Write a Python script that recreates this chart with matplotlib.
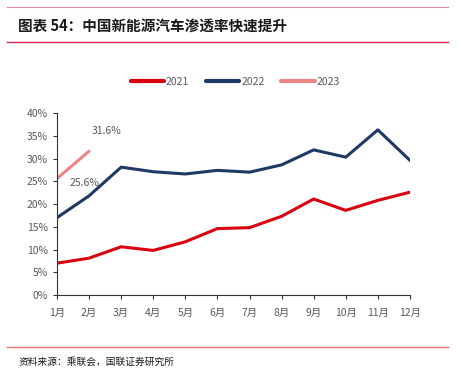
import matplotlib
matplotlib.use("Agg")
import matplotlib.pyplot as plt
from matplotlib.lines import Line2D

plt.rcParams['font.family'] = ['Noto Sans CJK SC', 'DejaVu Sans']

months = ["1月", "2月", "3月", "4月", "5月", "6月", "7月", "8月", "9月", "10月", "11月", "12月"]
pen_2021 = [7.0, 8.1, 10.6, 9.8, 11.7, 14.6, 14.8, 17.3, 21.1, 18.6, 20.8, 22.6]
pen_2022 = [17.0, 21.8, 28.1, 27.1, 26.6, 27.4, 27.0, 28.6, 31.9, 30.3, 36.3, 29.6]
pen_2023 = [25.6, 31.6]
yticks = [0, 5, 10, 15, 20, 25, 30, 35, 40]

red = "#D9000F"
navy = "#1F3864"
pink = "#EE8585"
grey = "#595959"

fig = plt.figure(figsize=(4.57, 3.75), dpi=100)
ax = fig.add_axes([0.1247, 0.2133, 0.7723, 0.4853])

x = list(range(len(months)))
ax.plot(x, pen_2021, color=red, lw=2.2, solid_capstyle='round')
ax.plot(x, pen_2022, color=navy, lw=2.2, solid_capstyle='round')
ax.plot(x[:len(pen_2023)], pen_2023, color=pink, lw=2.2, solid_capstyle='round')

ax.text(0.85, 24.7, "25.6%", fontsize=7.5, color=grey, ha='center', va='center')
ax.text(1.55, 36.0, "31.6%", fontsize=7.5, color=grey, ha='center', va='center')

ax.set_xlim(0, 11)
ax.set_ylim(0, 40)
ax.set_xticks(x)
ax.set_xticklabels(months)
ax.set_yticks(yticks)
ax.set_yticklabels([f"{v}%" for v in yticks])
ax.tick_params(axis='both', labelsize=7.5, colors=grey, length=3, width=0.8, direction='out')
ax.tick_params(axis='both', color='#333333')
ax.tick_params(axis='x', pad=6)
for s in ['top', 'right']:
    ax.spines[s].set_visible(False)
for s in ['left', 'bottom']:
    ax.spines[s].set_color('#333333')
    ax.spines[s].set_linewidth(0.8)

handles = [Line2D([], [], color=c, lw=3, solid_capstyle='round') for c in (red, navy, pink)]
fig.legend(handles, ["2021", "2022", "2023"], loc='center', bbox_to_anchor=(0.515, 0.781),
           ncol=3, frameon=False, fontsize=7.5, handlelength=3.2, handletextpad=0.2,
           columnspacing=1.6, labelcolor=grey)

# header / footer rules
fig.add_artist(Line2D([0.015, 0.98], [0.982, 0.982], color="#E58A9A", lw=0.8))
fig.add_artist(Line2D([0.015, 0.98], [0.888, 0.888], color="#D6264F", lw=1.0))
fig.add_artist(Line2D([0.015, 0.98], [0.075, 0.075], color="#E87272", lw=1.0))

fig.text(0.04, 0.932, "图表 54：中国新能源汽车渗透率快速提升", fontsize=10.5,
         fontweight='bold', color='#1a1a1a', va='center')
fig.text(0.04, 0.035, "资料来源：乘联会，国联证券研究所", fontsize=7, color='#1a1a1a', va='center')

fig.savefig("out.png", dpi=100)
